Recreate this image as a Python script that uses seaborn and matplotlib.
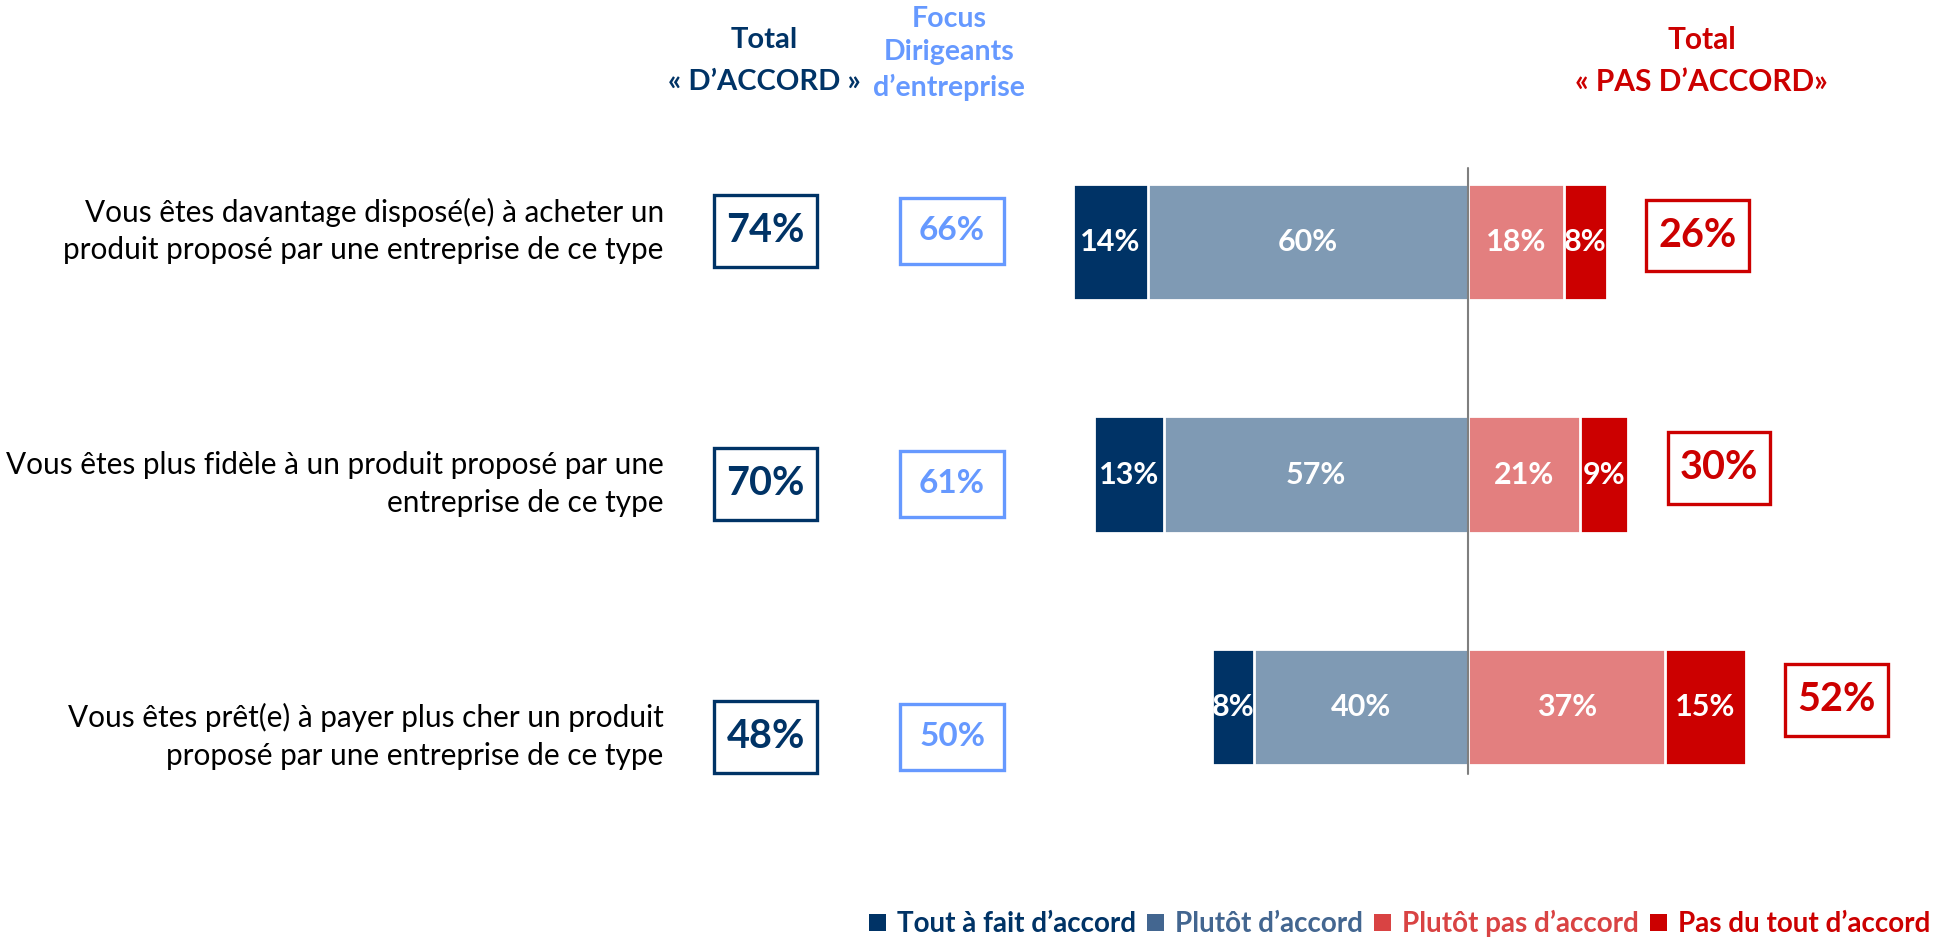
import numpy as np
import pandas as pd
import seaborn as sns
import matplotlib.pyplot as plt
from matplotlib.patches import Rectangle, Patch

# data
items = ['Vous êtes davantage disposé(e) à acheter un\nproduit proposé par une entreprise de ce type',
         'Vous êtes plus fidèle à un produit proposé par une\nentreprise de ce type',
         'Vous êtes prêt(e) à payer plus cher un produit\nproposé par une entreprise de ce type']
tout_a_fait = [14, 13, 8]
plutot = [60, 57, 40]
plutot_pas = [18, 21, 37]
pas_du_tout = [8, 9, 15]
focus_dirigeants = [66, 61, 50]
legend_labels = ['Tout à fait d’accord', 'Plutôt d’accord',
                 'Plutôt pas d’accord', 'Pas du tout d’accord']

NAVY = '#003366'
STEEL = '#7F9AB4'
PINK = '#E37F7F'
RED = '#CC0000'
FOCUS = '#6699FF'

sns.set_theme(style='white')
plt.rcParams['font.family'] = ['Lato', 'DejaVu Sans']

df = pd.DataFrame({'item': ['r%d' % i for i in range(len(items))],
                   'tout': tout_a_fait, 'plutot': plutot,
                   'plutot_pas': plutot_pas, 'pas': pas_du_tout})
df['accord'] = df['tout'] + df['plutot']
df['pas_accord'] = df['plutot_pas'] + df['pas']

fig = plt.figure(figsize=(19.57, 9.49), dpi=100)
ax = fig.add_axes([0, 0, 1, 1])

# stacked diverging bars: draw totals first, inner segment on top
sns.barplot(data=df, x=-df['accord'], y='item', color=NAVY, width=0.5,
            edgecolor='white', linewidth=2, saturation=1, ax=ax)
sns.barplot(data=df, x=-df['plutot'], y='item', color=STEEL, width=0.5,
            edgecolor='white', linewidth=2, saturation=1, ax=ax)
sns.barplot(data=df, x=df['pas_accord'], y='item', color=RED, width=0.5,
            edgecolor='white', linewidth=2, saturation=1, ax=ax)
sns.barplot(data=df, x=df['plutot_pas'], y='item', color=PINK, width=0.5,
            edgecolor='white', linewidth=2, saturation=1, ax=ax)

ax.set_xlim(-274.9, 91.6)
ax.set_ylim(3.045, -1.045)
ax.axis('off')
ax.plot([0, 0], [-0.32, 2.29], color='#7F7F7F', lw=1.5, zorder=5)

for i, r in df.iterrows():
    lab = dict(color='white', fontsize=22, fontweight='bold', ha='center', va='center')
    ax.text(-(r['plutot'] + r['tout'] / 2), i, '%d%%' % r['tout'], **lab)
    ax.text(-r['plutot'] / 2, i, '%d%%' % r['plutot'], **lab)
    ax.text(r['plutot_pas'] / 2, i, '%d%%' % r['plutot_pas'], **lab)
    ax.text(r['plutot_pas'] + r['pas'] / 2, i, '%d%%' % r['pas'], **lab)

    yl = -0.05 + 1.09 * i
    ax.text(-150.6, yl, items[i], fontsize=21.4, ha='right', va='center',
            color='black', linespacing=1.42)
    # total d'accord box
    ax.add_patch(Rectangle((-131.5 - 9.65, yl - 0.155), 19.3, 0.31, fill=False,
                           edgecolor=NAVY, lw=2.4))
    ax.text(-131.5, yl, '%d%%' % r['accord'], fontsize=28.5, fontweight='bold',
            color=NAVY, ha='center', va='center')
    # focus box
    ax.add_patch(Rectangle((-96.6 - 9.75, yl - 0.142), 19.5, 0.285, fill=False,
                           edgecolor=FOCUS, lw=2.4))
    ax.text(-96.6, yl, '%d%%' % focus_dirigeants[i], fontsize=24, fontweight='bold',
            color=FOCUS, ha='center', va='center')
    # total pas d'accord box
    xp = r['pas_accord'] + 17
    yp = i - 0.03
    ax.add_patch(Rectangle((xp - 9.6, yp - 0.155), 19.2, 0.31, fill=False,
                           edgecolor=RED, lw=2.4))
    ax.text(xp, yp, '%d%%' % r['pas_accord'], fontsize=28.5, fontweight='bold',
            color=RED, ha='center', va='center')

# column headers, one line at a time
hdr = dict(fontweight='bold', ha='center', va='center')
for s, y in zip(['Total', '« D’ACCORD »'], [-0.873, -0.692]):
    ax.text(-131.7, y, s, fontsize=21, color=NAVY, **hdr)
for s, y in zip(['Focus', 'Dirigeants', 'd’entreprise'], [-0.963, -0.821, -0.668]):
    ax.text(-97.2, y, s, fontsize=20.5, color=FOCUS, **hdr)
for s, y in zip(['Total', '« PAS D’ACCORD»'], [-0.873, -0.692]):
    ax.text(43.8, y, s, fontsize=21.5, color=RED, **hdr)

leg_colors = [NAVY, '#436690', '#D94343', RED]
handles = [Patch(facecolor=c, edgecolor='none') for c in leg_colors]
leg = fig.legend(handles, legend_labels, loc='lower right', bbox_to_anchor=(0.999, -0.014),
                 ncol=4, frameon=False, prop={'weight': 'bold', 'size': 20},
                 handlelength=0.6, handleheight=0.6, handletextpad=0.4, columnspacing=0.4)
for t, c in zip(leg.get_texts(), leg_colors):
    t.set_color(c)

fig.savefig('out.png', dpi=100)
